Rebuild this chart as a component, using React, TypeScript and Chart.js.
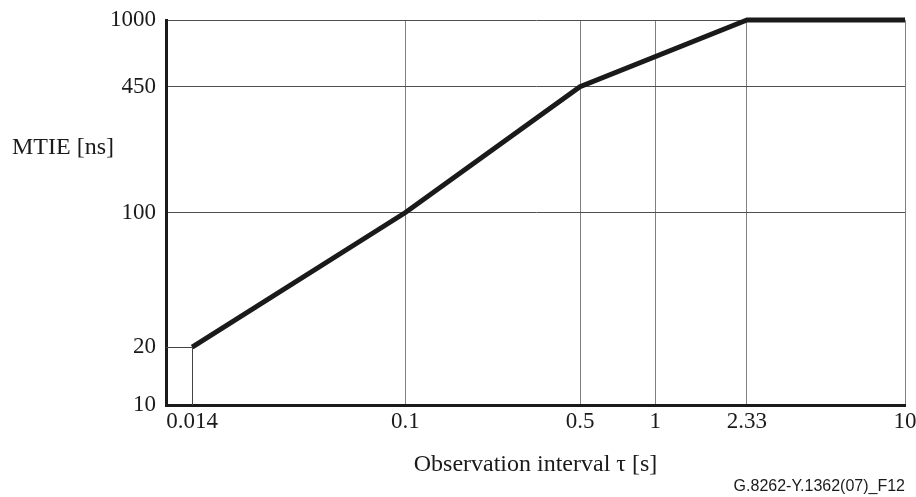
import React, { useEffect, useRef } from "react";
import { Chart, registerables } from "chart.js";

Chart.register(...registerables);

// ---- data ----
const tauValues = [0.014, 0.1, 0.5, 2.33, 10];
const mtieValues = [20, 100, 450, 1000, 1000];
const xTickValues = [0.014, 0.1, 0.5, 1, 2.33, 10];
const yTickValues = [10, 20, 100, 450, 1000];
const xTitle = "Observation interval τ [s]";
const yTitle = "MTIE [ns]";
const footnote = "G.8262-Y.1362(07)_F12";

const SERIF = "'Liberation Serif', 'Times New Roman', serif";
const SANS = "'Liberation Sans', Arial, sans-serif";

const annotatePlugin = {
  id: "annotate",
  beforeDatasetsDraw(chart: any) {
    const { ctx, chartArea, scales } = chart;
    const x = scales.x.getPixelForValue(tauValues[0]);
    const y = scales.y.getPixelForValue(mtieValues[0]);
    ctx.save();
    ctx.strokeStyle = "#444";
    ctx.lineWidth = 1;
    ctx.beginPath();
    ctx.moveTo(Math.round(x) + 0.5, chartArea.bottom);
    ctx.lineTo(Math.round(x) + 0.5, Math.round(y) + 0.5);
    ctx.lineTo(chartArea.left, Math.round(y) + 0.5);
    ctx.stroke();
    ctx.restore();
  },
  afterDraw(chart: any) {
    const { ctx, chartArea } = chart;
    ctx.save();
    ctx.fillStyle = "#1a1a1a";
    ctx.font = `24px ${SERIF}`;
    ctx.textBaseline = "middle";
    ctx.textAlign = "left";
    ctx.fillText(yTitle, 12, 148);
    ctx.textAlign = "center";
    ctx.fillText(xTitle, (chartArea.left + chartArea.right) / 2, 465);
    ctx.font = `16px ${SANS}`;
    ctx.textAlign = "right";
    ctx.fillText(footnote, 905, 487);
    ctx.restore();
  },
};

export default function App() {
  const canvasRef = useRef<HTMLCanvasElement | null>(null);

  useEffect(() => {
    const canvas = canvasRef.current;
    if (!canvas) return;
    const chart = new Chart(canvas, {
      type: "line",
      data: {
        datasets: [
          {
            data: tauValues.map((x, i) => ({ x, y: mtieValues[i] })),
            borderColor: "#1a1a1a",
            borderWidth: 5,
            pointRadius: 0,
            tension: 0,
            borderJoinStyle: "miter",
            borderCapStyle: "butt",
            clip: false,
          } as any,
        ],
      },
      options: {
        responsive: false,
        animation: false,
        devicePixelRatio: 1,
        layout: { padding: { top: 20, right: 11, left: 0, bottom: 0 } },
        plugins: {
          legend: { display: false },
          tooltip: { enabled: false },
        },
        scales: {
          x: {
            type: "logarithmic",
            min: 0.011,
            max: 10,
            afterBuildTicks: (s: any) => {
              s.ticks = xTickValues.map((v) => ({ value: v }));
            },
            afterFit: (s: any) => {
              s.height = 92;
              s.paddingLeft = 0;
              s.paddingRight = 0;
            },
            ticks: {
              callback: (v: any) => String(v),
              autoSkip: false,
              maxRotation: 0,
              padding: 3,
              color: "#1a1a1a",
              font: { family: SERIF, size: 23 },
            },
            grid: {
              drawTicks: false,
              lineWidth: 1,
              color: (c: any) =>
                c.tick && c.tick.value === tauValues[0] ? "rgba(0,0,0,0)" : "#808080",
            },
            border: { color: "#1a1a1a", width: 3 },
          },
          y: {
            type: "logarithmic",
            min: 10,
            max: 1000,
            afterBuildTicks: (s: any) => {
              s.ticks = yTickValues.map((v) => ({ value: v }));
            },
            afterFit: (s: any) => {
              s.width = 166;
              s.paddingTop = 0;
              s.paddingBottom = 0;
            },
            ticks: {
              callback: (v: any) => String(v),
              autoSkip: false,
              padding: 10,
              color: "#1a1a1a",
              font: { family: SERIF, size: 23 },
            },
            grid: {
              drawTicks: false,
              lineWidth: 1,
              color: (c: any) =>
                c.tick && (c.tick.value === mtieValues[0] || c.tick.value === 10)
                  ? "rgba(0,0,0,0)"
                  : "#505050",
            },
            border: { color: "#1a1a1a", width: 3 },
          },
        },
      },
      plugins: [annotatePlugin],
    });
    return () => chart.destroy();
  }, []);

  return (
    <div style={{ position: "fixed", left: 0, top: 0, width: 916, height: 497, background: "#fff" }}>
      <canvas ref={canvasRef} width={916} height={497} />
    </div>
  );
}
